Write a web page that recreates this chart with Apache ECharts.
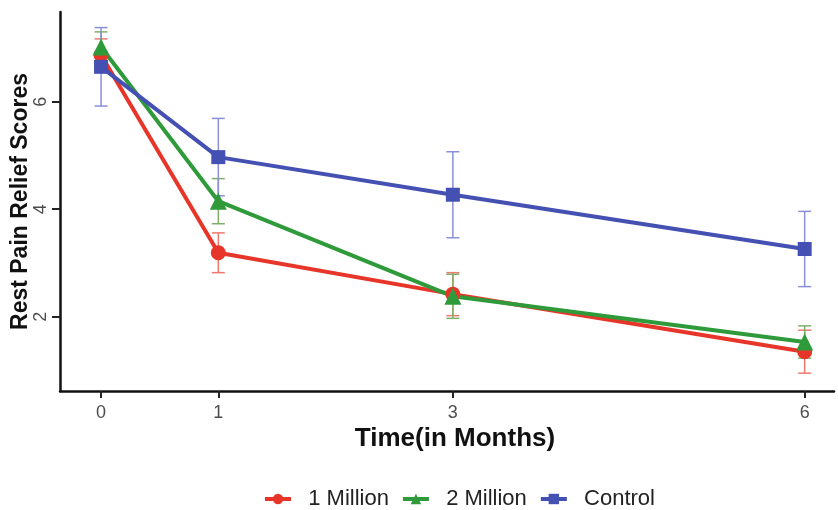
<!DOCTYPE html>
<html>
<head>
<meta charset="utf-8">
<script src="https://cdn.jsdelivr.net/npm/echarts@6/dist/echarts.min.js"></script>
<style>html,body{margin:0;padding:0;background:#fff}#c{width:838px;height:510px}</style>
</head>
<body>
<div id="c"></div>
<script>
const months = [0, 1, 3, 6];
const xTicks = [0, 1, 3, 6];
const yTicks = [2, 4, 6];
const seriesNames = ['1 Million', '2 Million', 'Control'];
const oneMillion = [6.87, 3.19, 2.42, 1.35];
const oneMillionErr = [0.3, 0.37, 0.4, 0.4];
const twoMillion = [7.02, 4.15, 2.38, 1.53];
const twoMillionErr = [0.28, 0.42, 0.41, 0.3];
const control = [6.65, 4.97, 4.27, 3.26];
const controlErr = [0.73, 0.72, 0.8, 0.7];

const colors = ['#E8352A', '#2E9A3A', '#4450B2'];
const errColors = ['#EE7A6E', '#7FB06A', '#8A8FD6'];
const symbols = ['circle', 'triangle', 'rect'];
const symbolSizes = [15, 17, 14];
const means = [oneMillion, twoMillion, control];
const errs = [oneMillionErr, twoMillionErr, controlErr];

const series = [];
means.forEach((m, i) => {
  series.push({
    type: 'custom',
    name: seriesNames[i] + ' err',
    z: 1,
    data: months.map((x, j) => [x, m[j] - errs[i][j], m[j] + errs[i][j]]),
    renderItem: function (params, api) {
      const lo = api.coord([api.value(0), api.value(1)]);
      const hi = api.coord([api.value(0), api.value(2)]);
      const w = 6.5;
      const st = { stroke: errColors[i], lineWidth: 1.5 };
      return {
        type: 'group',
        children: [
          { type: 'line', shape: { x1: lo[0], y1: lo[1], x2: hi[0], y2: hi[1] }, style: st },
          { type: 'line', shape: { x1: lo[0] - w, y1: lo[1], x2: lo[0] + w, y2: lo[1] }, style: st },
          { type: 'line', shape: { x1: hi[0] - w, y1: hi[1], x2: hi[0] + w, y2: hi[1] }, style: st }
        ]
      };
    },
    silent: true
  });
});
means.forEach((m, i) => {
  series.push({
    type: 'line',
    name: seriesNames[i],
    z: 3,
    data: months.map((x, j) => [x, m[j]]),
    symbol: symbols[i],
    symbolSize: symbolSizes[i],
    showAllSymbol: true,
    lineStyle: { color: colors[i], width: 4 },
    itemStyle: { color: colors[i] },
    animation: false
  });
});

const chart = echarts.init(document.getElementById('c'), null, { renderer: 'canvas' });
chart.setOption({
  animation: false,
  backgroundColor: '#fff',
  grid: { left: 60, right: 4, top: 12, bottom: 119, containLabel: false, outerBoundsMode: 'none' },
  xAxis: {
    type: 'value',
    min: -0.35,
    max: 6.25,
    splitLine: { show: false },
    axisLine: { onZero: false, lineStyle: { color: '#111', width: 2.5 } },
    axisTick: { customValues: xTicks, length: 7, lineStyle: { color: '#222', width: 2 } },
    axisLabel: { customValues: xTicks, color: '#4d4d4d', fontSize: 18, fontFamily: 'Liberation Sans, Arial', margin: 13 },
    name: 'Time(in Months)',
    nameLocation: 'middle',
    nameGap: 35,
    nameMoveOverlap: false,
    nameTextStyle: { color: '#111', fontSize: 26, fontWeight: 'bold', fontFamily: 'Liberation Sans, Arial', padding: [0, 0, 0, 16] }
  },
  yAxis: {
    type: 'value',
    min: 0.618,
    max: 7.67,
    splitLine: { show: false },
    axisLine: { show: true, onZero: false, lineStyle: { color: '#111', width: 2.5 } },
    axisTick: { show: true, inside: false, customValues: yTicks, length: 8, lineStyle: { color: '#222', width: 2 } },
    axisLabel: { customValues: yTicks, rotate: 90, color: '#4d4d4d', fontSize: 18, fontFamily: 'Liberation Sans, Arial', margin: 10 },
    name: 'Rest Pain Relief Scores',
    nameLocation: 'middle',
    nameGap: 28,
    nameMoveOverlap: false,
    nameTextStyle: { color: '#111', fontSize: 23, fontWeight: 'bold', fontFamily: 'Liberation Sans, Arial' }
  },
  legend: {
    data: seriesNames,
    top: 483,
    left: 258,
    itemWidth: 26,
    itemHeight: 13,
    itemGap: 12,
    lineStyle: { width: 4 },
    formatter: function (n) { return '  ' + n; },
    textStyle: { color: '#222', fontSize: 22, fontFamily: 'Liberation Sans, Arial' }
  },
  series: series
});
</script>
</body>
</html>
